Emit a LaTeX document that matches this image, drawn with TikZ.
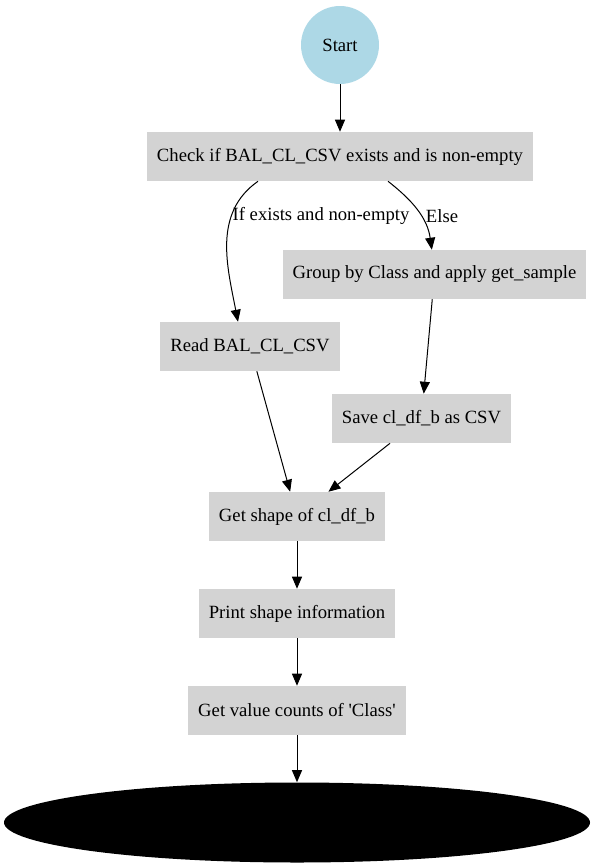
\documentclass[tikz,border=0pt]{standalone}
\usepackage{fontspec}
\setmainfont{Liberation Serif}
\usepackage{tikz}
\usetikzlibrary{arrows.meta,shapes.geometric}
\definecolor{startblue}{HTML}{ADD8E6}
\definecolor{boxgray}{HTML}{D3D3D3}
\tikzset{
  stepbox/.style={fill=boxgray, minimum height=36.75pt, inner xsep=7.5pt, inner ysep=0pt},
  flow/.style={-{Triangle[length=9pt,width=7.5pt]}, line width=0.75pt},
  every node/.style={font=\fontsize{14pt}{16pt}\selectfont}
}

\begin{document}
\begin{tikzpicture}[x=0.75pt,y=-0.75pt]
        \useasboundingbox (0,0) rectangle (595,868);
        % Nodes
        \node[circle, fill=startblue, minimum size=58.5pt, inner sep=0pt] (start) at (340,45) {Start};
        \node[stepbox] (check) at (340,156.5) {Check if BAL\_CL\_CSV exists and is non-empty};
        \node[stepbox] (group) at (434.5,274.5) {Group by Class and apply get\_sample};
        \node[stepbox] (read) at (250,346.5) {Read BAL\_CL\_CSV};
        \node[stepbox] (save) at (421.5,418.5) {Save cl\_df\_b as CSV};
        \node[stepbox] (shape) at (297,516.5) {Get shape of cl\_df\_b};
        \node[stepbox] (print) at (297,613.5) {Print shape information};
        \node[stepbox] (counts) at (297,710.5) {Get value counts of \textquotesingle Class\textquotesingle};
        \node[ellipse, fill=black, minimum width=439.5pt, minimum height=60pt, inner sep=0pt] (stop) at (297,822.5) {};
        % Labels on the branches
        \node (lblyes) at (321,216) {If exists and non-empty};
        \node (lblelse) at (442,216) {Else};
        % Connectors
        \draw[flow] (start) -- (check);
        \draw[flow] ([xshift=-61.5pt]check.south) to[out=-145,in=101] ([xshift=-9pt]read.north);
        \draw[flow] ([xshift=36pt]check.south) to[out=-38,in=98] ([xshift=-2pt]group.north);
        \draw[flow] (group) -- (save);
        \draw[flow] (read) -- (shape);
        \draw[flow] (save) -- (shape);
        \draw[flow] (shape) -- (print);
        \draw[flow] (print) -- (counts);
        \draw[flow] (counts) -- (stop);
    \end{tikzpicture}
\end{document}
